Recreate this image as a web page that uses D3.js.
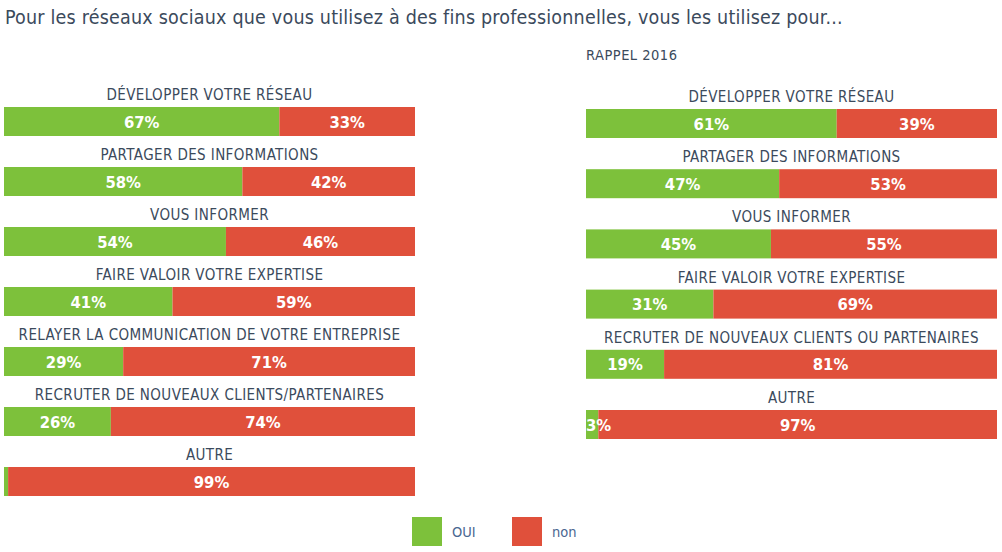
<!DOCTYPE html>
<html><head><meta charset="utf-8">
<script src="https://cdn.jsdelivr.net/npm/d3@7"></script>
<style>body{margin:0;background:#fff;} svg{display:block;}</style>
</head><body>
<svg id="c" width="1002" height="552"></svg>
<script>
const title = "Pour les réseaux sociaux que vous utilisez à des fins professionnelles, vous les utilisez pour...";
const subtitle2016 = "RAPPEL 2016";
const categories2019 = ["DÉVELOPPER VOTRE RÉSEAU","PARTAGER DES INFORMATIONS","VOUS INFORMER","FAIRE VALOIR VOTRE EXPERTISE","RELAYER LA COMMUNICATION DE VOTRE ENTREPRISE","RECRUTER DE NOUVEAUX CLIENTS/PARTENAIRES","AUTRE"];
const oui2019 = [67,58,54,41,29,26,1];
const non2019 = [33,42,46,59,71,74,99];
const categories2016 = ["DÉVELOPPER VOTRE RÉSEAU","PARTAGER DES INFORMATIONS","VOUS INFORMER","FAIRE VALOIR VOTRE EXPERTISE","RECRUTER DE NOUVEAUX CLIENTS OU PARTENAIRES","AUTRE"];
const oui2016 = [61,47,45,31,19,3];
const non2016 = [39,53,55,69,81,97];
const seriesNames = ["OUI","non"];

const GREEN = "#7dc13b", RED = "#e0503b", TXT = "#3b4a5c", FONT = "'DejaVu Sans Condensed','DejaVu Sans',sans-serif";
const svg = d3.select("#c");

svg.append("text").attr("x",5).attr("y",24).attr("font-family",FONT).attr("font-size",19.5)
  .attr("letter-spacing",0.2).attr("fill",TXT).text(title);
svg.append("text").attr("x",586).attr("y",60).attr("font-family",FONT).attr("font-size",14.5)
  .attr("letter-spacing",0.5).attr("fill",TXT).text(subtitle2016);

function panel(cats, oui, non, x0, x1, yTop, step) {
  const x = d3.scaleLinear().domain([0,100]).range([x0,x1]);
  const y = d3.scaleBand().domain(cats).range([yTop, yTop + step*cats.length]).paddingInner(0).paddingOuter(0);
  const g = svg.append("g");
  const rows = g.selectAll("g.row").data(cats.map((c,i)=>({c, o:oui[i], n:non[i]}))).join("g");
  const barH = 29;
  rows.append("text").attr("x",(x0+x1)/2).attr("y",d=>y(d.c)+7).attr("text-anchor","middle")
    .attr("font-family",FONT).attr("font-size",15).attr("letter-spacing",0.4).attr("fill",TXT).text(d=>d.c);
  const by = d => y(d.c)+14;
  rows.append("rect").attr("x",x(0)).attr("y",by).attr("width",d=>x(d.o)-x(0)).attr("height",barH).attr("fill",GREEN);
  rows.append("rect").attr("x",d=>x(d.o)).attr("y",by).attr("width",d=>x(100)-x(d.o)).attr("height",barH).attr("fill",RED);
  const lab = (sel, start, val) => sel.filter(d=>val(d)>=2).append("text")
      .attr("x",d=>{const w = x(start(d)+val(d))-x(start(d)); return w<30 ? x(start(d)) : x(start(d)+val(d)/2);})
      .attr("text-anchor",d=>{const w = x(start(d)+val(d))-x(start(d)); return w<30 ? "start":"middle";})
      .attr("y",d=>by(d)+barH/2+6).attr("font-family",FONT).attr("font-weight","bold").attr("font-size",16.5)
      .attr("fill","#fff").text(d=>val(d)+"%");
  lab(rows, d=>0, d=>d.o);
  lab(rows, d=>d.o, d=>d.n);
}
panel(categories2019, oui2019, non2019, 4, 415, 93, 60);
panel(categories2016, oui2016, non2016, 586, 997, 95, 60.2);

const leg = svg.append("g");
const lx = d3.scaleOrdinal().domain(seriesNames).range([412,512]);
const lc = d3.scaleOrdinal().domain(seriesNames).range([GREEN,RED]);
seriesNames.forEach(s=>{
  leg.append("rect").attr("x",lx(s)).attr("y",517).attr("width",30).attr("height",29).attr("fill",lc(s));
  leg.append("text").attr("x",lx(s)+40).attr("y",537).attr("font-family",FONT).attr("font-size",14.5)
    .attr("fill","#4a6791").text(s);
});
</script>
</body></html>
